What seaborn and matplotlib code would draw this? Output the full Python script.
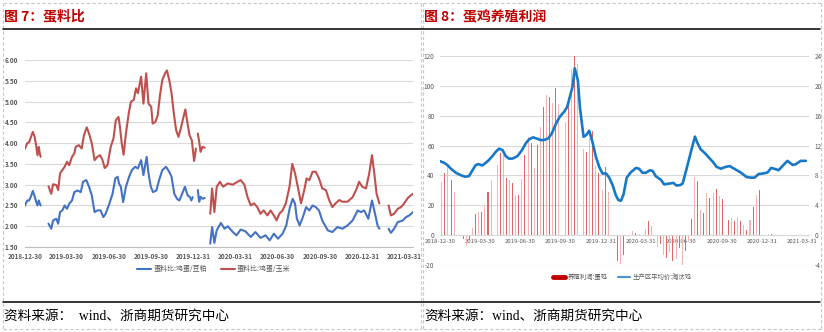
import numpy as np
import pandas as pd
import matplotlib
matplotlib.use("Agg")
import matplotlib.pyplot as plt
from matplotlib.lines import Line2D
import seaborn as sns

sns.set_theme(style="white")
plt.rcParams['font.family'] = ['Noto Sans CJK SC', 'DejaVu Sans']
plt.rcParams['axes.unicode_minus'] = False

START = pd.Timestamp("2018-12-30")
NA = np.nan

# ---------------- 图7 蛋料比 (days since START, ratio) ----------------
corn_day = [-2, 2, 5, 9, 13, 17, 21, 24, 27, 30, 32, 34, 42,
            51, 57, 61, 68, 72, 76, 81, 86, 91, 96, 102, 107, 110, 117, 123, 128, 134, 139, 145,
            151, 157, 163, 168, 173, 179, 186, 192, 197, 203, 206, 210, 214, 219, 225, 230, 236,
            241, 245, 252, 257, 263, 268, 274, 277, 283, 288, 293, 298, 304, 308, 313, 318, 323,
            328, 333, 338, 344, 348, 351, 357, 362, 367, 371, 373,
            375, 378, 381, 385, 390, 396,
            402, 406, 411, 416, 423, 430, 440, 451, 461, 468, 476, 483, 490, 497, 504, 511, 518,
            526, 533, 540, 546, 552, 559, 566, 574, 580, 586, 592, 599, 606, 611, 617, 624, 631,
            638, 645, 653, 660, 667, 674, 682, 689, 700, 711, 720, 725, 732, 740, 747, 753, 758,
            763, 769, 779,
            789, 794, 801, 809, 816, 823, 830, 838, 842]
corn_ratio = [3.83, 3.92, 4.00, 4.02, 4.15, 4.27, 4.15, 3.95, 3.71, 3.91, 3.75, 3.67, NA,
              2.96, 2.78, 3.01, 2.99, 2.87, 3.27, 3.35, 3.43, 3.55, 3.47, 3.67, 3.75, 3.91, 3.95, 3.87, 4.19, 4.38, 4.23, 3.99,
              3.59, 3.67, 3.71, 3.60, 3.40, 3.47, 3.91, 4.11, 4.55, 4.63, 4.39, 3.99, 3.72, 4.23, 4.71, 5.00, 5.04,
              5.32, 5.20, 5.60, 4.95, 5.68, 4.95, 4.87, 4.47, 4.51, 4.67, 5.16, 5.52, 5.68, 5.75, 5.52, 5.20, 4.71,
              4.31, 4.15, 4.35, 4.63, 4.81, 4.59, 4.19, 4.07, 3.57, 3.87, NA,
              4.23, 4.03, 3.79, 3.91, 3.89, NA,
              2.30, 2.91, 2.34, 2.95, 3.07, 2.95, 3.03, 3.00, 3.07, 3.11, 3.00, 2.70, 2.50, 2.55, 2.46, 2.30, 2.38,
              2.26, 2.38, 2.26, 2.14, 2.30, 2.38, 2.55, 2.95, 3.50, 3.27, 2.95, 2.55, 2.87, 3.15, 3.11, 3.31, 3.31,
              3.15, 2.91, 2.87, 2.63, 2.46, 2.55, 2.63, 2.59, 2.59, 2.70, 2.91, 3.07, 2.95, 2.91, 3.27, 3.71, 3.27,
              2.78, 2.55, NA,
              2.50, 2.26, 2.30, 2.42, 2.46, 2.55, 2.67, 2.75, 2.78]

meal_day = [-2, 2, 5, 9, 13, 17, 21, 24, 27, 30, 32, 34, 42,
            51, 57, 61, 68, 72, 76, 81, 86, 91, 96, 102, 107, 114, 121, 126, 133, 139, 145,
            151, 157, 164, 170, 175, 183, 190, 196, 201, 204, 208, 213, 219, 226, 232, 239, 245,
            252, 257, 264, 268, 273, 278, 285, 291, 298, 306, 313, 318, 324, 330, 335, 341, 347,
            353, 358, 361, 364, 369,
            375, 378, 381, 385, 390, 396,
            402, 406, 411, 416, 425, 433, 440, 451, 459, 468, 478, 490, 500, 511, 522, 531, 540,
            549, 559, 567, 575, 581, 586, 590, 596, 603, 610, 617, 624, 631, 638, 645, 657, 667,
            678, 689, 700, 711, 722, 729, 736, 745, 753, 758, 765, 769, 779,
            789, 794, 801, 809, 820, 827, 834, 842]
meal_ratio = [2.46, 2.55, 2.62, 2.62, 2.72, 2.85, 2.72, 2.60, 2.50, 2.62, 2.55, 2.50, NA,
              2.06, 1.94, 2.14, 2.18, 2.06, 2.34, 2.38, 2.50, 2.42, 2.54, 2.62, 2.82, 2.86, 2.82, 3.07, 3.11, 2.95, 2.74,
              2.34, 2.38, 2.38, 2.22, 2.30, 2.54, 2.78, 3.15, 3.19, 3.03, 2.95, 2.58, 2.95, 3.19, 3.35, 3.43, 3.39,
              3.59, 3.23, 3.67, 3.27, 2.95, 2.82, 2.86, 3.11, 3.35, 3.43, 3.31, 3.19, 2.78, 2.66, 2.62, 2.78, 2.95,
              2.74, 2.70, 2.62, 2.70, NA,
              2.87, 2.59, 2.71, 2.66, 2.68, NA,
              1.58, 1.98, 1.60, 1.90, 2.08, 1.94, 2.00, 1.86, 1.78, 1.92, 1.88, 1.74, 1.86, 1.72, 1.78, 1.66, 1.82,
              1.70, 1.82, 2.02, 2.46, 2.66, 2.54, 2.18, 2.02, 2.22, 2.46, 2.38, 2.50, 2.46, 2.38, 2.14, 1.90, 1.86,
              1.98, 1.94, 2.02, 2.14, 2.38, 2.34, 2.38, 2.18, 2.62, 2.38, 2.02, 1.94, NA,
              1.94, 1.84, 1.94, 2.10, 2.14, 2.22, 2.26, 2.34]

# ---------------- 图8 蛋鸡养殖利润 ----------------
PROFIT_START = pd.Timestamp("2019-01-03")   # weekly bars
profit = [35.8, 41.8, 46.9, 36.9, 28.6, NA, NA, -2.7, -7.4, -3.4,
          4.5, 13.9, 15.6, 15.6, 19.7, 29.1, 36.9, NA, 46.9, 55.2,
          53.6, 38.0, 36.9, 35.1, 26.1, 26.8, 37.5, 53.6, 65.9, 61.9,
          44.7, 60.1, 72.2, 86.0, 93.9, 92.7, 88.7, 98.3, 87.8, NA,
          75.5, 89.4, 111.3, 120.0, 114.4, NA, 57.7, 55.9, 64.8, 69.7,
          46.5, 41.3, 30.2, 45.8, 28.6, NA, NA, -17.4, -19.6, -13.4,
          0.3, -0.5, 2.7, 1.6, 1.1, 0.2, 3.8, 9.4, 5.8, -0.5,
          -7.8, -6.0, -13.4, -15.4, -11.6, -17.0, -16.3, -8.5, -20.0, -10.9,
          -4.0, 10.7, 38.8, 36.6, 16.7, 14.7, 28.3, 25.0, 28.1, 30.6,
          25.9, 24.1, NA, 10.3, 11.4, 9.8, 12.1, 9.4, 6.7, 3.6,
          10.3, 18.8, 26.8, 30.4, NA, NA, 0.6, 0.8, 0.3, NA,
          NA, NA, 0.3, 0.2, 0.3, 0.2, 0.3, 0.2]

hen_day = [-2, 9, 17, 24, 36, 47, 57, 66, 73, 81, 87, 96, 104, 111, 119, 127, 134, 142, 149, 157,
           166, 176, 185, 195, 202, 211, 219, 229, 236, 246, 254, 263, 272, 282, 289, 295, 301, 306,
           313, 318, 326, 332, 339, 347, 354, 362, 369, 377, 384, 392, 399, 405, 411, 417, 424, 433,
           445, 452, 460, 467, 477, 483, 490, 502, 509, 520, 530, 537, 545, 551, 560, 570, 579, 585,
           592, 603, 612, 620, 628, 638, 649, 658, 668, 680, 687, 696, 706, 714, 724, 733, 744, 752,
           759, 769, 780, 789, 801, 808, 819, 831]
hen_price = [9.96, 9.70, 9.38, 8.94, 8.36, 8.04, 7.82, 7.92, 8.62, 9.38, 9.52, 9.34, 9.70, 10.06,
             10.60, 11.18, 11.58, 11.40, 10.60, 10.24, 10.28, 10.60, 11.30, 12.30, 12.82, 13.10, 12.96,
             12.74, 12.74, 12.96, 13.64, 14.88, 15.86, 16.54, 17.20, 18.56, 19.90, 22.36, 20.78, 16.98,
             13.18, 13.40, 14.00, 12.30, 10.50, 9.08, 8.26, 8.26, 7.74, 6.70, 5.40, 4.70, 4.60, 5.50,
             7.70, 8.40, 9.00, 8.90, 8.35, 8.35, 8.70, 8.60, 7.90, 7.40, 6.80, 6.90, 7.00, 6.65, 6.70,
             6.90, 8.90, 11.20, 13.20, 12.30, 11.50, 10.90, 10.30, 9.80, 9.15, 8.90, 9.15, 9.25, 8.90,
             8.50, 8.20, 7.80, 7.70, 7.70, 8.20, 8.25, 8.40, 9.00, 8.90, 8.70, 9.40, 9.95, 9.40, 9.50,
             9.95, 9.95]

TICK_LABELS = ['2018-12-30', '2019-03-30', '2019-06-30', '2019-09-30', '2019-12-31',
               '2020-03-31', '2020-06-30', '2020-09-30', '2020-12-31', '2021-03-31']

W, H = 824, 332
fig = plt.figure(figsize=(W / 100, H / 100), dpi=100)

def fx(px):
    return px / W

def fy(py):
    return 1 - py / H

def seg_frame(days, vals):
    df = pd.DataFrame({'date': START + pd.to_timedelta(days, unit='D'), 'val': vals})
    df['seg'] = df['val'].isna().cumsum()
    return df.dropna()

TICK_C = '#595959'
GRID_C = '#d9d9d9'
FS = 4.6

# ---------- left chart ----------
ax1 = fig.add_axes([fx(25), fy(247), fx(413) - fx(25), fy(60) - fy(247)])
blue, red = '#4472c4', '#c0504d'
sns.lineplot(data=seg_frame(meal_day, meal_ratio), x='date', y='val', units='seg',
             estimator=None, color=blue, lw=1.5, ax=ax1)
sns.lineplot(data=seg_frame(corn_day, corn_ratio), x='date', y='val', units='seg',
             estimator=None, color=red, lw=1.5, ax=ax1)
ax1.set_ylim(1.5, 6.0)
ax1.set_yticks(np.arange(1.5, 6.01, 0.5))
ax1.set_yticklabels([f'{v:.2f}' for v in np.arange(1.5, 6.01, 0.5)])
ax1.set_xlim(START, START + pd.Timedelta(days=842))
ax1.set_xticks(pd.to_datetime(TICK_LABELS))
ax1.set_xticklabels(TICK_LABELS)
ax1.grid(axis='y', color=GRID_C, lw=0.8)
ax1.set_xlabel('')
ax1.set_ylabel('')
for s in ['top', 'right', 'left']:
    ax1.spines[s].set_visible(False)
ax1.spines['bottom'].set_color('#bfbfbf')
ax1.spines['bottom'].set_linewidth(0.8)
ax1.tick_params(axis='x', length=2, color='#bfbfbf', labelsize=FS, labelcolor=TICK_C, pad=2)
ax1.tick_params(axis='y', length=0, labelsize=FS, labelcolor=TICK_C, pad=5)
for t in ax1.get_xticklabels() + ax1.get_yticklabels():
    t.set_fontweight('bold')
leg1 = [Line2D([0], [0], color=blue, lw=1.5), Line2D([0], [0], color=red, lw=1.5)]
fig.legend(leg1, ['蛋料比:鸡蛋/豆粕', '蛋料比:鸡蛋/玉米'], loc='center',
           bbox_to_anchor=(fx(214), fy(269)), ncol=2, frameon=False, fontsize=FS + 0.4,
           handlelength=2.0, columnspacing=2.0, handletextpad=0.3, labelcolor=TICK_C)

# ---------- right chart ----------
ax2 = fig.add_axes([fx(440), fy(265), fx(809) - fx(440), fy(56) - fy(265)])
pdates = PROFIT_START + pd.to_timedelta(np.arange(len(profit)) * 7, unit='D')
bar_cols = ['#f4b4b4' if i % 2 == 0 else '#e06666' for i in range(len(profit))]
ax2.bar(pdates, profit, width=2.3, color=bar_cols, linewidth=0)
ax2.set_ylim(-20, 120)
ax2.set_yticks(np.arange(-20, 121, 20))
ax2.set_xlim(START, START + pd.Timedelta(days=838))
ax2.set_xticks(pd.to_datetime(TICK_LABELS))
ax2.set_xticklabels(TICK_LABELS)
ax2.grid(axis='y', color=GRID_C, lw=0.8)
for s in ['top', 'right', 'left']:
    ax2.spines[s].set_visible(False)
ax2.spines['bottom'].set_position(('data', 0))
ax2.spines['bottom'].set_color('#d9d9d9')
ax2.spines['bottom'].set_linewidth(0.8)
ax2.tick_params(axis='x', length=0, labelsize=FS - 0.3, labelcolor=TICK_C, pad=3)
ax2.tick_params(axis='y', length=0, labelsize=FS, labelcolor=TICK_C, pad=4)
ax2.set_xlabel('')
ax2.set_ylabel('')

ax3 = ax2.twinx()
hdf = pd.DataFrame({'date': START + pd.to_timedelta(hen_day, unit='D'), 'price': hen_price})
sns.lineplot(data=hdf, x='date', y='price', color='#1878c8', lw=1.9, ax=ax3)
ax3.set_ylim(-4, 24)
ax3.set_yticks(np.arange(-4, 25, 4))
for s in ['top', 'right', 'left', 'bottom']:
    ax3.spines[s].set_visible(False)
ax3.tick_params(axis='y', length=0, labelsize=FS, labelcolor=TICK_C, pad=4)
ax3.set_ylabel('')
ax3.set_xlabel('')
leg2 = [Line2D([0], [0], color='#c00000', lw=3.5), Line2D([0], [0], color='#4a90d0', lw=1.5)]
fig.legend(leg2, ['养殖利润:蛋鸡', '生产区平均价:淘汰鸡'], loc='center',
           bbox_to_anchor=(fx(622), fy(277)), ncol=2, frameon=False, fontsize=FS,
           handlelength=2.0, columnspacing=1.6, handletextpad=0.3, labelcolor=TICK_C)

# ---------- frames, titles, sources ----------
def fline(x0, y0, x1, y1, **kw):
    fig.add_artist(Line2D([fx(x0), fx(x1)], [fy(y0), fy(y1)], transform=fig.transFigure, **kw))

dash = dict(color='#c8c8c8', lw=0.8, ls=(0, (3, 2)))
for (l, r) in [(3, 421), (423, 821)]:
    fline(l, 3, r, 3, **dash)
    fline(l, 329, r, 329, **dash)
    fline(l, 3, l, 329, **dash)
    fline(r, 3, r, 329, **dash)
fline(3, 29, 820, 29, color='black', lw=1.1)
fline(3, 302, 820, 302, color='black', lw=1.1)

title_kw = dict(color='#c00000', fontsize=10, fontweight='bold', va='center', ha='left')
fig.text(fx(4), fy(16), '图 7：蛋料比', **title_kw)
fig.text(fx(424), fy(16), '图 8：蛋鸡养殖利润', **title_kw)

src_kw = dict(fontsize=9.8, va='center', ha='left', color='black',
              family=['Liberation Serif', 'Noto Sans CJK SC'])
fig.text(fx(4), fy(316), '资料来源：  wind、浙商期货研究中心', **src_kw)
fig.text(fx(424), fy(316), '资料来源：wind、浙商期货研究中心', **src_kw)

fig.savefig('out.png', dpi=100)
